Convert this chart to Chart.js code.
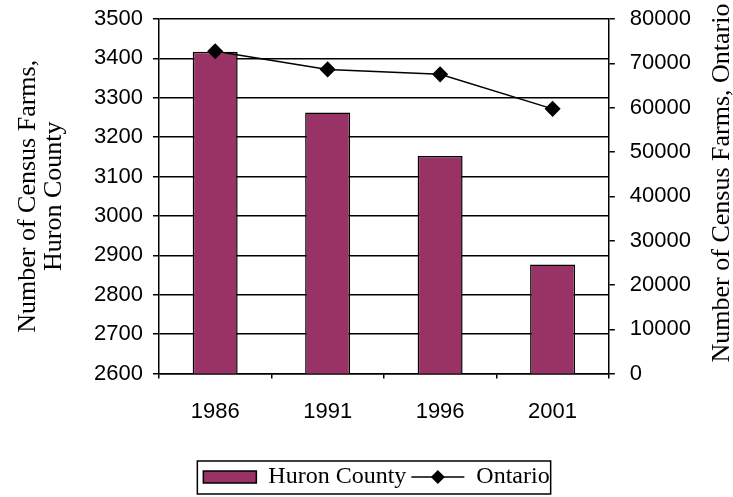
<!DOCTYPE html>
<html>
<head>
<meta charset="utf-8">
<script src="https://cdn.jsdelivr.net/npm/chart.js@4"></script>
<style>
	html, body { margin: 0; padding: 0; background: #fff; }
	#wrap { width: 733px; height: 497px; }
</style>
</head>
<body>
<div id="wrap"><canvas id="farms-chart"></canvas></div>
<script>
const years = ['1986', '1991', '1996', '2001'];
const huronFarms = [3417, 3263, 3152, 2877];
const ontarioFarms = [72713, 68633, 67520, 59728];
const huronTicks = [2600, 2700, 2800, 2900, 3000, 3100, 3200, 3300, 3400, 3500];
const ontarioTicks = [0, 10000, 20000, 30000, 40000, 50000, 60000, 70000, 80000];

(function () {
	const $farmsChart = document.getElementById('farms-chart');

	Chart.defaults.color = '#000';
	Chart.defaults.font.family = '"Liberation Sans", Arial, sans-serif';

	const serif = '"Liberation Serif", "Times New Roman", serif';

	// no label overflow reserve on the value axes, top edge is set by layout padding
	const noOverflow = (scale) => {
		scale.paddingTop = 0;
		scale.paddingBottom = 0;
	};

	// right title reads bottom-to-top, and the legend gets a frame + line/diamond swatch
	const extras = {
		id: 'extras',
		afterLayout(chart) {
			// legend sits a bit right of centre and lower in the original
			chart.legend.left += 16;
			chart.legend.right += 16;
			chart.legend.top += 2;
			chart.legend.bottom += 2;
		},
		afterDraw(chart) {
			const ctx = chart.ctx;
			ctx.save();
			ctx.translate(722, 183);
			ctx.rotate(-Math.PI / 2);
			ctx.font = '26px ' + serif;
			ctx.fillStyle = '#000';
			ctx.textAlign = 'center';
			ctx.textBaseline = 'middle';
			ctx.fillText('Number of Census Farms, Ontario', 0, 0);
			ctx.restore();

			const boxes = chart.legend.legendHitBoxes;
			if (!boxes || !boxes.length) return;
			const left = Math.min(...boxes.map(b => b.left)) - 6;
			const right = Math.max(...boxes.map(b => b.left + b.width)) + 1;
			const top = boxes[0].top - 4;
			const bottom = boxes[0].top + boxes[0].height + 5;
			ctx.save();
			ctx.strokeStyle = '#000';
			ctx.lineWidth = 1.5;
			ctx.strokeRect(left, top, right - left, bottom - top);

			const b = boxes[1];
			const cy = b.top + b.height / 2;
			ctx.beginPath();
			ctx.moveTo(b.left, cy);
			ctx.lineTo(b.left + 53, cy);
			ctx.lineWidth = 1.5;
			ctx.stroke();
			const cx = b.left + 26.5;
			ctx.beginPath();
			ctx.moveTo(cx, cy - 7);
			ctx.lineTo(cx + 7, cy);
			ctx.lineTo(cx, cy + 7);
			ctx.lineTo(cx - 7, cy);
			ctx.closePath();
			ctx.fillStyle = '#000';
			ctx.fill();
			ctx.restore();
		},
	};

	const data = {
		labels: years,
		datasets: [
			{
				type: 'bar',
				label: 'Huron County',
				data: huronFarms,
				yAxisID: 'y',
				backgroundColor: '#993366',
				borderColor: '#000',
				borderWidth: 1.5,
				borderSkipped: false,
				categoryPercentage: 1,
				barPercentage: 0.4,
				order: 1,
			},
			{
				type: 'line',
				label: 'Ontario',
				data: ontarioFarms,
				yAxisID: 'y1',
				borderColor: '#000',
				backgroundColor: '#000',
				borderWidth: 1.5,
				pointStyle: 'rectRot',
				pointRadius: 7,
				tension: 0,
				order: 0,
			},
		],
	};

	const config = {
		data: data,
		options: {
			responsive: true,
			maintainAspectRatio: false,
			animation: false,
			layout: {
				padding: { top: 19, right: 27, left: 15, bottom: 0 },
			},
			scales: {
				x: {
					grid: { offset: true, drawOnChartArea: false, color: '#000', lineWidth: 1.5, tickLength: 5 },
					border: { color: '#000', width: 1.5 },
					ticks: { font: { size: 22 }, padding: 20 },
					afterFit(scale) {
						scale.height += 13;
					},
				},
				y: {
					position: 'left',
					min: huronTicks[0],
					max: huronTicks[huronTicks.length - 1],
					ticks: {
						stepSize: huronTicks[1] - huronTicks[0],
						font: { size: 22 },
						padding: 10,
						callback: (v) => String(v),
					},
					grid: { color: '#000', lineWidth: 1.5, tickLength: 6 },
					border: { color: '#000', width: 1.5 },
					title: {
						display: true,
						text: ['Number of Census Farms,', 'Huron County'],
						font: { family: serif, size: 26, lineHeight: 1.0 },
						padding: { top: 0, bottom: 17 },
					},
					afterFit: noOverflow,
				},
				y1: {
					position: 'right',
					min: ontarioTicks[0],
					max: ontarioTicks[ontarioTicks.length - 1],
					ticks: {
						stepSize: ontarioTicks[1] - ontarioTicks[0],
						font: { size: 22 },
						padding: 15,
						callback: (v) => String(v),
					},
					grid: { drawOnChartArea: false, color: '#000', lineWidth: 1.5, tickLength: 6 },
					border: { color: '#000', width: 1.5 },
					afterFit: noOverflow,
				},
			},
			plugins: {
				legend: {
					position: 'bottom',
					labels: {
						boxWidth: 53,
						boxHeight: 12,
						padding: 5,
						font: { family: serif, size: 24 },
						sort: (a, b) => a.datasetIndex - b.datasetIndex,
						generateLabels(chart) {
							const items = Chart.defaults.plugins.legend.labels.generateLabels(chart);
							items.forEach((item) => {
								if (item.datasetIndex === 1) {
									item.fillStyle = 'rgba(0,0,0,0)';
									item.strokeStyle = 'rgba(0,0,0,0)';
									item.lineWidth = 0;
								} else {
									item.lineWidth = 1.5;
								}
							});
							return items;
						},
					},
				},
				tooltip: { enabled: false },
			},
		},
		plugins: [extras],
	};

	const farmsChart = new Chart($farmsChart, config);
})();
</script>
</body>
</html>
